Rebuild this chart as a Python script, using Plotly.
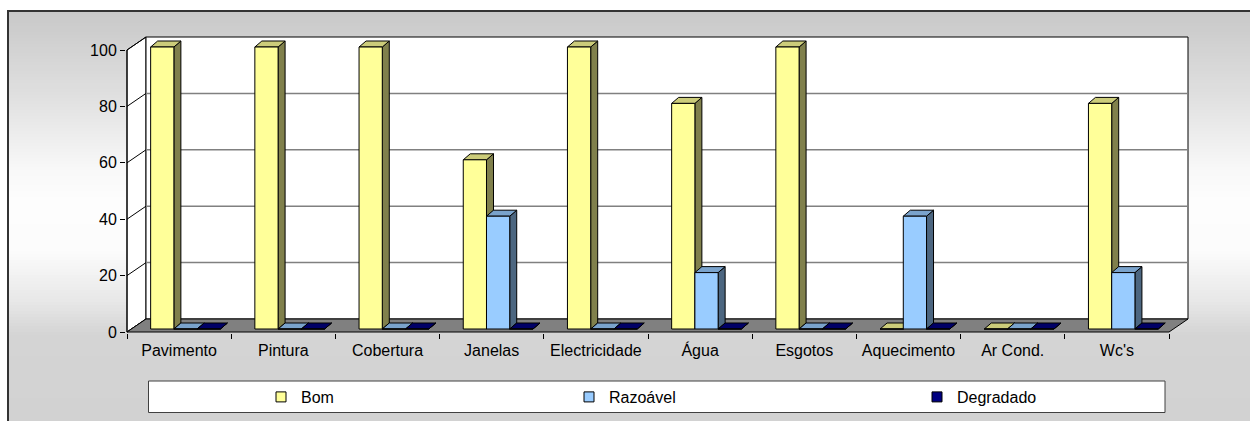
import numpy as np
import plotly.graph_objects as go

# ---------------- data ----------------
categories = ["Pavimento", "Pintura", "Cobertura", "Janelas", "Electricidade",
              "Água", "Esgotos", "Aquecimento", "Ar Cond.", "Wc's"]
bom = [100, 100, 100, 60, 100, 80, 100, 0, 0, 80]
razoavel = [0, 0, 0, 40, 0, 20, 0, 40, 0, 20]
degradado = [0, 0, 0, 0, 0, 0, 0, 0, 0, 0]
series_names = ["Bom", "Razoável", "Degradado"]
y_ticks = [0, 20, 40, 60, 80, 100]

# ---------------- styles ----------------
front_colors = ["#FFFF99", "#99CCFF", "#000080"]
top_colors = ["#CCCC7A", "#7AA3CC", "#000066"]
side_colors = ["#80804C", "#4C6680", "#000040"]
FONT = "Liberation Sans, Arial, sans-serif"

W, H = 1250, 421
L, R, T, B = 126, 1196, 30, 333          # plot area in pixels
X0PX, XNPX = 127, 1169                    # pixel of x=0 and x=N
Y0PX, Y100PX = 332, 50                    # pixel of y=0 and y=100
N = len(categories)
sx = (XNPX - X0PX) / N
sy = (Y0PX - Y100PX) / 100.0
xr = [(L - X0PX) / sx, (R - X0PX) / sx]
yr = [(Y0PX - B) / sy, (Y0PX - T) / sy]

DX, DY = 19 / sx, 13 / sy                 # floor depth
BAR_BASE = 3 / sy
BAR_START, BAR_W = 0.227, 0.223
BDX, BDY = 7 / sx, 6 / sy                 # bar depth
YMAX = max(y_ticks)


def px(xp):
    return (xp - L) / (R - L)


def py(yp):
    return (B - yp) / (B - T)


def poly(xs, ys, fill, color="black", width=1):
    return go.Scatter(x=xs, y=ys, mode="lines", fill="toself", fillcolor=fill,
                      line=dict(color=color, width=width), showlegend=False,
                      hoverinfo="skip")


def seg(xs, ys, color, width=1):
    return go.Scatter(x=xs, y=ys, mode="lines", line=dict(color=color, width=width),
                      showlegend=False, hoverinfo="skip")


fig = go.Figure()

# walls
fig.add_trace(poly([0, 0, DX, DX, 0], [0, YMAX, YMAX + DY, DY, 0], "white"))
fig.add_trace(poly([DX, DX, N + DX, N + DX, DX], [DY, YMAX + DY, YMAX + DY, DY, DY], "white"))
# gridlines on back wall
gx, gy = [], []
for v in y_ticks[1:-1]:
    gx += [DX, N + DX, None]
    gy += [v + DY, v + DY, None]
fig.add_trace(seg(gx, gy, "#808080", 1.5))
# diagonals on left wall
dxs, dys = [], []
for v in y_ticks:
    dxs += [0, DX, None]
    dys += [v, v + DY, None]
fig.add_trace(seg(dxs, dys, "black", 1))
# floor
fig.add_trace(poly([0, DX, N + DX, N, 0], [0, DY, DY, 0, 0], "#808080"))
# y axis line
fig.add_trace(seg([0, 0], [0, YMAX], "black", 1))

# bars
all_vals = [bom, razoavel, degradado]
for k, vals in enumerate(all_vals):
    fx, fy, tx, ty, sxs, sys_ = [], [], [], [], [], []
    for i, v in enumerate(vals):
        x0 = i + BAR_START + k * BAR_W
        x1 = x0 + BAR_W
        b = BAR_BASE
        fx += [x0, x0, x1, x1, x0, None]
        fy += [b, b + v, b + v, b, b, None]
        tx += [x0, x0 + BDX, x1 + BDX, x1, x0, None]
        ty += [b + v, b + v + BDY, b + v + BDY, b + v, b + v, None]
        sxs += [x1, x1 + BDX, x1 + BDX, x1, x1, None]
        sys_ += [b, b + BDY, b + v + BDY, b + v, b, None]
    fig.add_trace(poly(sxs, sys_, side_colors[k]))
    fig.add_trace(poly(tx, ty, top_colors[k]))
    fig.add_trace(poly(fx, fy, front_colors[k]))

# legend entries (one small legend per series so each can sit in its own slot)
legend_ids = ["legend", "legend2", "legend3"]
legend_sym_px = [261, 569, 917]
for k, name in enumerate(series_names):
    fig.add_trace(go.Scatter(x=[None], y=[None], mode="markers", name=name,
                             legend=legend_ids[k],
                             marker=dict(symbol="square", size=10, color=front_colors[k],
                                         line=dict(color="black", width=1)),
                             hoverinfo="skip"))

# background gradient and frames
shapes = []
anchors_y = [11, 100, 167, 200, 250, 300, 335, 421]
anchors_v = [200, 225, 248, 253, 252, 232, 212, 210]
step = 3
for y in range(11, 421, step):
    g = int(round(np.interp(y + step / 2, anchors_y, anchors_v)))
    shapes.append(dict(type="rect", xref="paper", yref="paper", layer="below",
                       x0=px(8), x1=px(1260), y0=py(y), y1=py(y + step + 0.5),
                       fillcolor=f"rgb({g},{g},{g})", line=dict(width=0)))
shapes.append(dict(type="rect", xref="paper", yref="paper", layer="below",
                   x0=px(8), x1=px(1262), y0=py(11), y1=py(432),
                   fillcolor="rgba(0,0,0,0)", line=dict(color="#333333", width=2)))
shapes.append(dict(type="rect", xref="paper", yref="paper", layer="below",
                   x0=px(148.5), x1=px(1165), y0=py(381), y1=py(412.5),
                   fillcolor="white", line=dict(color="#404040", width=1)))

legend_common = dict(orientation="h", xanchor="left", yanchor="middle",
                     bgcolor="rgba(0,0,0,0)", borderwidth=0,
                     font=dict(size=16, family=FONT, color="black"))
legends = {}
for k, lid in enumerate(legend_ids):
    legends[lid] = dict(legend_common, x=px(legend_sym_px[k]), y=py(397))

fig.update_layout(
    width=W, height=H,
    margin=dict(l=L, r=W - R, t=T, b=H - B, pad=0, autoexpand=False),
    paper_bgcolor="white", plot_bgcolor="rgba(0,0,0,0)",
    font=dict(family=FONT, size=16, color="black"),
    shapes=shapes,
    hovermode=False,
    showlegend=True,
    xaxis=dict(range=xr, showgrid=False, zeroline=False, showline=False,
               tickmode="array", tickvals=[i + 0.5 for i in range(N)], ticktext=categories,
               ticks="outside", ticklen=3, tickcolor="rgba(0,0,0,0)",
               tickfont=dict(size=16, family=FONT, color="black"),
               minor=dict(tickmode="array", tickvals=list(range(N + 1)), ticks="outside",
                          ticklen=5, tickcolor="black", tickwidth=1, showgrid=False),
               fixedrange=True, automargin=False),
    yaxis=dict(range=yr, showgrid=False, zeroline=False, showline=False,
               tickmode="array", tickvals=y_ticks, ticks="outside", ticklen=5,
               tickcolor="black", tickwidth=1,
               tickfont=dict(size=16, family=FONT, color="black"), fixedrange=True,
               automargin=False),
    **legends,
)

fig.write_html("out.html", config={"displayModeBar": False},
               post_script="document.body.style.margin='0px';document.body.style.overflow='hidden';")
